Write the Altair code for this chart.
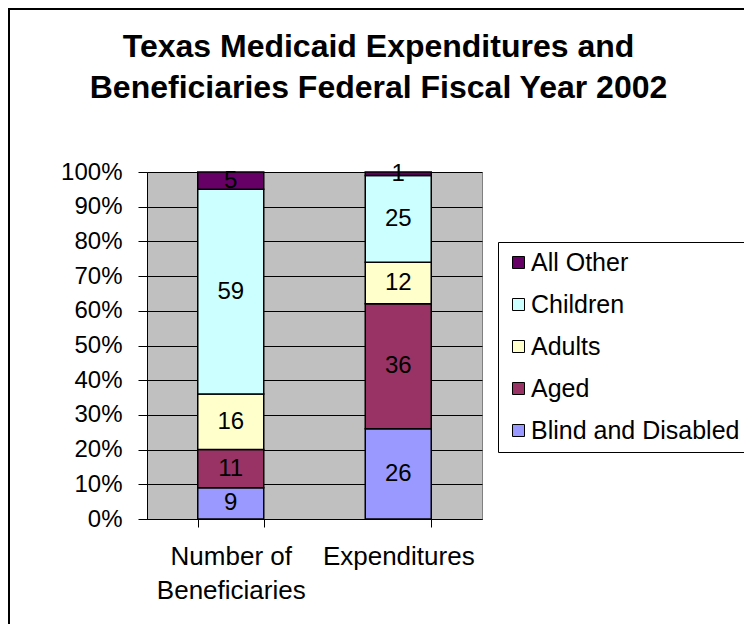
import altair as alt
import pandas as pd

# ---- data ----
categories = ["Number of Beneficiaries", "Expenditures"]
groups = ["Blind and Disabled", "Aged", "Adults", "Children", "All Other"]
beneficiaries = [9, 11, 16, 59, 5]
expenditures = [26, 36, 12, 25, 1]
legend_order = ["All Other", "Children", "Adults", "Aged", "Blind and Disabled"]
colors = ["#660066", "#CCFFFF", "#FFFFCC", "#993366", "#9999FF"]
y_ticks = [0, 0.1, 0.2, 0.3, 0.4, 0.5, 0.6, 0.7, 0.8, 0.9, 1.0]

rows = []
for cat, vals in zip(categories, [beneficiaries, expenditures]):
    for i, (g, v) in enumerate(zip(groups, vals)):
        rows.append({"cat": cat, "group": g, "value": v, "ord": i})
df = pd.DataFrame(rows)

FONT = "Liberation Sans"
W, H = 335, 347

base = alt.Chart(df).transform_stack(
    stack="value",
    groupby=["cat"],
    as_=["y0", "y1"],
    offset="normalize",
    sort=[alt.SortField("ord", order="ascending")],
).transform_calculate(mid="(datum.y0 + datum.y1) / 2")

xaxis = alt.Axis(
    labelAngle=0,
    labelFont=FONT,
    labelFontSize=26,
    labelColor="black",
    labelPadding=16,
    labelLineHeight=34,
    labelLimit=0,
    domainColor="black",
    tickColor="black",
    tickSize=8,
    tickBand="extent",
    labelExpr="datum.label == 'Number of Beneficiaries' ? ['Number of', 'Beneficiaries'] : datum.label",
)
xscale = alt.Scale(paddingInner=0.606, paddingOuter=0.303)

yaxis = alt.Axis(
    values=y_ticks,
    tickCount=11,
    format=".0%",
    grid=True,
    gridColor="black",
    gridOpacity=1,
    gridWidth=1,
    domainColor="black",
    tickColor="black",
    tickSize=9,
    labelFont=FONT,
    labelFontSize=24,
    labelColor="black",
    labelPadding=16,
    labelOverlap=False,
    labelFlush=False,
)
yscale = alt.Scale(domain=[0, 1], nice=False)

bars = base.mark_bar(stroke="black", strokeWidth=1.5).encode(
    x=alt.X("cat:N", sort=categories, title=None, scale=xscale, axis=xaxis),
    y=alt.Y("y0:Q", scale=yscale, title=None, axis=yaxis),
    y2="y1:Q",
    color=alt.Color(
        "group:N",
        scale=alt.Scale(domain=legend_order, range=colors),
        legend=alt.Legend(
            title=None,
            orient="none",
            legendX=351,
            legendY=70,
            strokeColor="black",
            fillColor="white",
            padding=8,
            symbolType="square",
            symbolSize=144,
            symbolStrokeColor="black",
            symbolStrokeWidth=1,
            symbolOpacity=1,
            labelFont=FONT,
            labelFontSize=25,
            labelColor="black",
            labelLimit=0,
            rowPadding=16,
            labelOffset=0,
        ),
    ),
)

labels = base.mark_text(font=FONT, fontSize=24, color="black", baseline="middle").encode(
    x=alt.X("cat:N", sort=categories, title=None, scale=xscale, axis=xaxis),
    y=alt.Y("mid:Q", scale=yscale, title=None, axis=yaxis),
    text=alt.Text("value:Q"),
)

frame = alt.Chart(alt.Data(values=[{}])).mark_rect(
    fill=None, stroke="black", strokeWidth=2
).encode(
    x=alt.value(-138),
    x2=alt.value(900),
    y=alt.value(-163),
    y2=alt.value(900),
)

chart = alt.layer(frame, bars, labels).properties(
    width=W,
    height=H,
    padding={"left": 139, "top": 164, "right": 262, "bottom": 105},
    autosize=alt.AutoSizeParams(type="none"),
    title=alt.TitleParams(
        text=["Texas Medicaid Expenditures and", "Beneficiaries Federal Fiscal Year 2002"],
        font=FONT,
        fontSize=32,
        fontWeight="bold",
        color="black",
        anchor="middle",
        dx=64,
        offset=-97,
        lineHeight=41,
    ),
).configure_view(fill="#C0C0C0", stroke="#808080")

chart.save("out.html", embed_options={"renderer": "svg", "actions": False})
